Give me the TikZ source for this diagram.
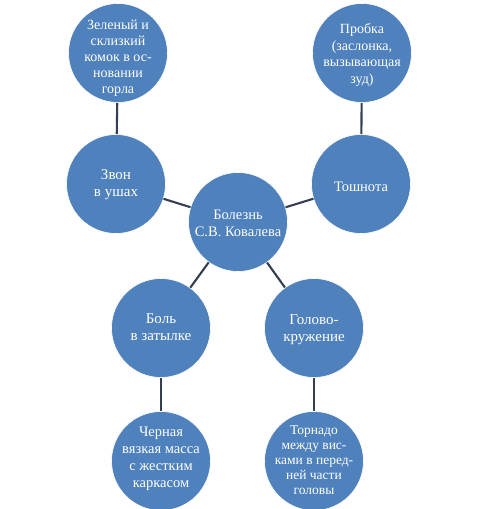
\documentclass[tikz,border=0pt]{standalone}
\usepackage{fontspec}
\setmainfont{Liberation Serif}
\definecolor{bubblue}{RGB}{79,129,189}
\definecolor{linkc}{RGB}{52,62,82}
\begin{document}
\begin{tikzpicture}[x=1pt,y=-1pt,
  bub/.style={circle, fill=bubblue, draw=white, line width=0.6pt, minimum size=99pt, inner sep=0pt},
  txt/.style={text=white, align=center, inner sep=0pt, font=\fontsize{14.5}{17}\selectfont},
  link/.style={draw=linkc, line width=2.1pt}]
\useasboundingbox (0,0) rectangle (500,509);
\node[bub] (zel) at (118,53) {};
\node[bub] (prob) at (362,53) {};
\node[bub] (zvon) at (116,184) {};
\node[bub] (tosh) at (361,184) {};
\node[bub] (bol) at (238,222) {};
\node[bub] (zat) at (161,328) {};
\node[bub] (gol) at (314,328) {};
\node[bub] (cher) at (161,461) {};
\node[bub] (torn) at (314,461) {};

\node[txt, font=\fontsize{14}{16}\selectfont] (tzel) at ([yshift=-5pt]zel.center) {Зеленый и\\склизкий\\комок в ос-\\новании\\горла};
\node[txt, font=\fontsize{14}{16.5}\selectfont] (tprob) at ([yshift=-2pt]prob.center) {Пробка\\(заслонка,\\вызывающая\\зуд)};
\node[txt, font=\fontsize{15}{17}\selectfont] (tzvon) at ([yshift=-1pt]zvon.center) {Звон\\в ушах};
\node[txt, font=\fontsize{14.5}{17}\selectfont] (ttosh) at ([yshift=-2.5pt]tosh.center) {Тошнота};
\node[txt] (tbol) at ([yshift=-1pt]bol.center) {Болезнь\\С.В. Ковалева};
\node[txt, font=\fontsize{15}{17}\selectfont] (tzat) at ([yshift=1pt]zat.center) {Боль\\в затылке};
\node[txt, font=\fontsize{15}{17}\selectfont] (tgol) at ([yshift=-2pt]gol.center) {Голово-\\кружение};
\node[txt, font=\fontsize{14.5}{17}\selectfont] (tcher) at ([yshift=2.5pt]cher.center) {Черная\\вязкая масса\\с жестким\\каркасом};
\node[txt, font=\fontsize{13.5}{15}\selectfont] (ttorn) at ([yshift=0.5pt]torn.center) {Торнадо\\между вис-\\ками в перед-\\ней части\\головы};

\draw[link] (zel) -- (zvon);
\draw[link] (prob) -- (tosh);
\draw[link] (bol) -- (zvon);
\draw[link] (bol) -- (tosh);
\draw[link] (bol) -- (zat);
\draw[link] (bol) -- (gol);
\draw[link] (zat) -- (cher);
\draw[link] (gol) -- (torn);
\end{tikzpicture}
\end{document}
